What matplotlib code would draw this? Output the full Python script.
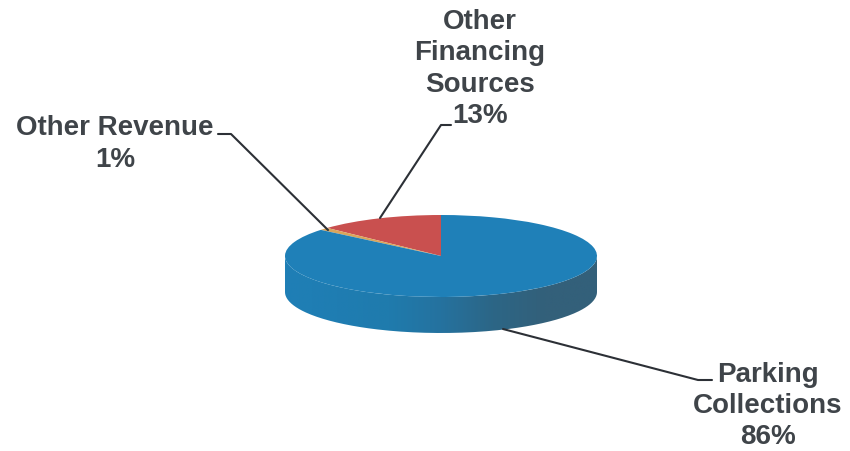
import numpy as np
import matplotlib
matplotlib.use("Agg")
import matplotlib.pyplot as plt
from matplotlib.colors import LinearSegmentedColormap
from matplotlib.patches import PathPatch
from matplotlib.path import Path

categories = ["Other\nFinancing\nSources\n13%", "Other Revenue\n1%", "Parking\nCollections\n86%"]
values = [13, 1, 86]
colors = ["#c9504f", "#d9a55a", "#1f80b8"]
wall_stops = ["#1f7fb6", "#1f7db2", "#1f7bad", "#25729f", "#2c6686", "#33607a", "#33607a"]
TEXT = "#3f4449"
W, H = 850, 452
cx, cy, a, b, depth = 441, 257, 156, 41, 36

plt.rcParams["font.family"] = ["Liberation Sans", "DejaVu Sans"]
fig = plt.figure(figsize=(W / 100, H / 100), dpi=100)
fig.patch.set_facecolor("white")

# Pie axes: one data unit = a px horizontally, b px vertically
d = depth / b
ax = fig.add_axes([(cx - 1.25 * a) / W, 1 - (cy + 1.25 * b + depth) / H,
                   2.5 * a / W, (2.5 * b + depth) / H])
ax.pie(values, colors=colors, startangle=90, counterclock=True, radius=1,
       wedgeprops=dict(linewidth=0))
for w in ax.patches:
    w.set_zorder(5)
t = np.linspace(np.pi, 2 * np.pi, 200)
xs = np.r_[np.cos(t), np.cos(t[::-1])]
ys = np.r_[np.sin(t) - d, np.sin(t[::-1])]
cmap = LinearSegmentedColormap.from_list("wall", wall_stops)
grad = np.linspace(0, 1, 256).reshape(1, -1)
im = ax.imshow(grad, extent=(-1, 1, -1 - d, 1), aspect="auto", cmap=cmap, zorder=2)
clip = PathPatch(Path(np.c_[xs, ys]), transform=ax.transData, fc="none", ec="none")
ax.add_patch(clip)
im.set_clip_path(clip)
ax.set_xlim(-1.25, 1.25)
ax.set_ylim(-1.25 - d, 1.25)
ax.axis("off")

# Overlay in pixel coordinates for labels and leaders
ov = fig.add_axes([0, 0, 1, 1], zorder=10)
ov.set_xlim(0, W)
ov.set_ylim(H, 0)
ov.axis("off")
ov.patch.set_alpha(0)
label_pos = [(480, 69), (115, 144), (768, 406)]
leaders = [
    [(451, 126), (441, 126), (380, 219)],
    [(218, 135), (231, 135), (328, 231)],
    [(712, 381), (698, 381), (503, 330)],
]
for name, (lx, ly), pts in zip(categories, label_pos, leaders):
    ov.text(lx, ly, name, ha="center", va="center", fontsize=20, fontweight="bold",
            color=TEXT, linespacing=1.27)
    px, py = zip(*pts)
    ov.plot(px, py, color="#2c3036", lw=1.5, solid_capstyle="round")

fig.savefig("out.png", dpi=100)
